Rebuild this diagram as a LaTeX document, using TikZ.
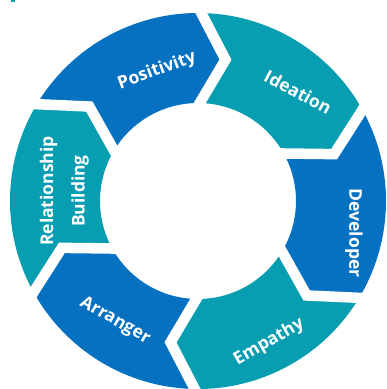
\documentclass[tikz,border=0pt]{standalone}
\usepackage{fontspec}
\setmainfont{Open Sans}
\usetikzlibrary{calc}
\definecolor{segblue}{RGB}{6,112,193}
\definecolor{segteal}{RGB}{7,158,177}
\begin{document}
\begin{tikzpicture}[x=1pt,y=1pt,
  lbl/.style={text=white,font=\fontsize{17.5}{20}\selectfont\bfseries,inner sep=0pt},
  gapline/.style={white,line width=10.5pt,line join=miter}]
\useasboundingbox (0,-389) rectangle (387,0);
\clip (0,-389) rectangle (387,0);
\fill[white] (0,-389) rectangle (387,0);
\fill[segteal] (11,0) rectangle (15,-1.5);
\def\Ro{188}\def\Ri{98}\def\Rm{144}\def\dd{10}
\begin{scope}[shift={(198,-201)}]
\foreach \bt/\col in {149/segblue, 89/segteal, 29/segblue, -31/segteal, -91/segblue, -151/segteal}{
  \pgfmathsetmacro\bl{\bt-60}
  \fill[\col] (\bt:\Ro) arc[start angle=\bt, end angle=\bl, radius=\Ro]
     -- (\bl-\dd:\Rm) -- (\bl:\Ri)
     arc[start angle=\bl, end angle=\bt, radius=\Ri]
     -- (\bt-\dd:\Rm) -- cycle;
}
\foreach \b in {149,89,29,-31,-91,-151}{
  \draw[gapline] ($(\b-\dd:\Rm)!1.4!(\b:\Ro)$) -- (\b-\dd:\Rm) -- ($(\b-\dd:\Rm)!1.4!(\b:\Ri)$);
}
\end{scope}
\node[lbl, rotate=20] (pos) at (157,-71) {Positivity};
\node[lbl, rotate=-28] (ide) at (298,-92) {Ideation};
\node[lbl, rotate=-90] (dev) at (354,-233) {Developer};
\node[lbl, rotate=30] (emp) at (269,-342) {Empathy};
\node[lbl, rotate=-30] (arr) at (115,-321) {Arranger};
\node[lbl, rotate=90] (rel) at (48.5,-191) {Relationship};
\node[lbl, rotate=90] (bld) at (80,-191) {Building};
\end{tikzpicture}
\end{document}
